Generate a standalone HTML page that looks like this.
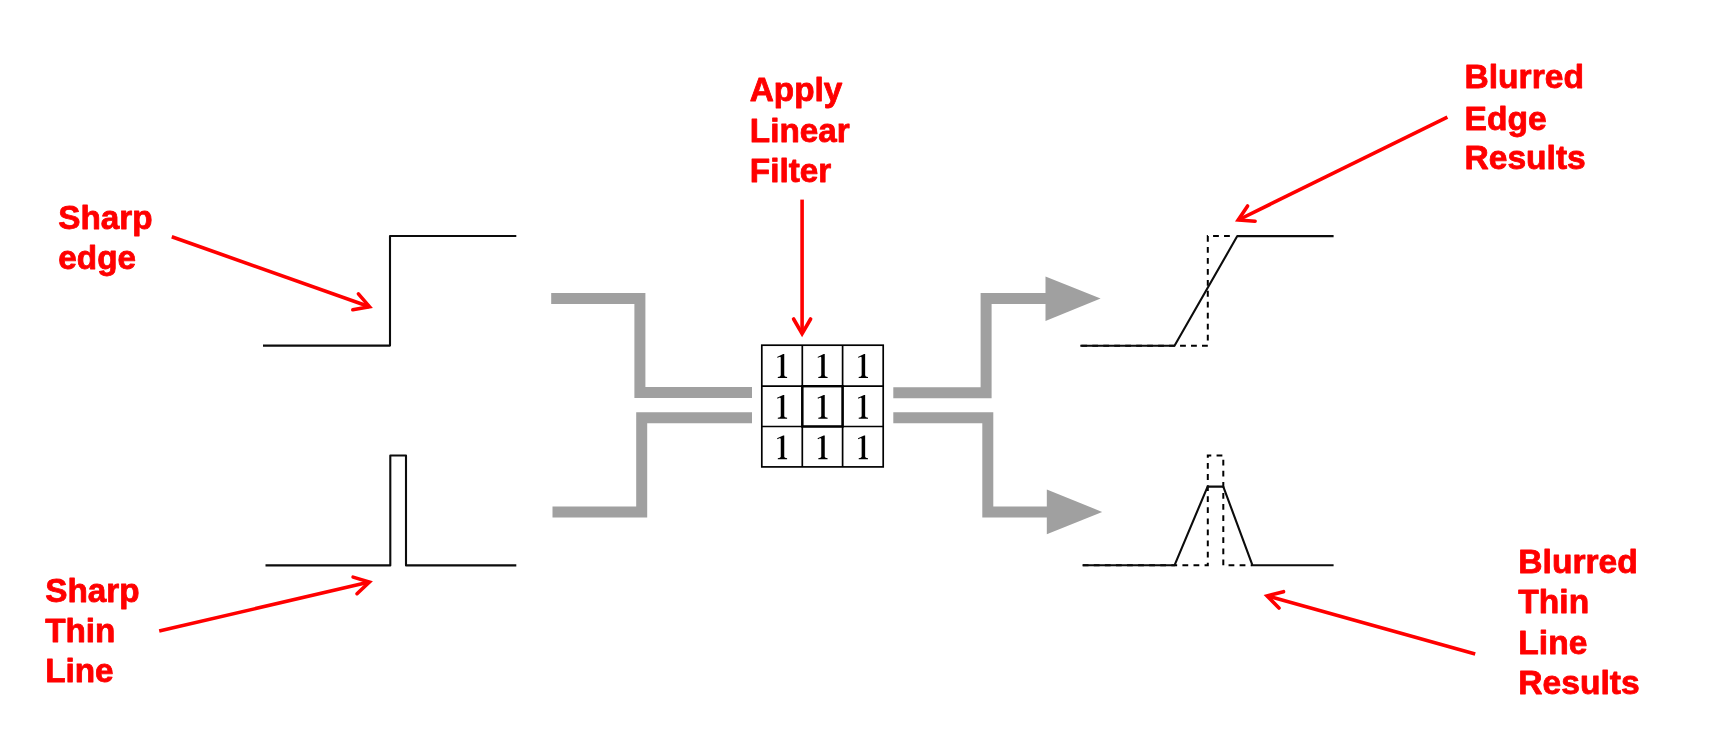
<!DOCTYPE html>
<html>
<head>
<meta charset="utf-8">
<title>Linear filter blur diagram</title>
<style>
  html, body { margin: 0; padding: 0; background: #ffffff; }
  body { width: 1718px; height: 752px; overflow: hidden; }
  svg { display: block; will-change: transform; }
  .lbl { font-family: "Liberation Sans", sans-serif; font-weight: bold; font-size: 33.3px; fill: #ff0000; stroke: #ff0000; stroke-width: 0.8px; stroke-linejoin: round; }
  .sig { fill: none; stroke: #0c0c0c; stroke-width: 2.1; stroke-linejoin: round; stroke-linecap: butt; }
  .dash { fill: none; stroke: #000000; stroke-width: 2; stroke-linejoin: miter; }
  .gry { fill: none; stroke: #a0a0a0; stroke-width: 11; stroke-linejoin: miter; stroke-linecap: butt; }
  .gfill { fill: #a0a0a0; stroke: none; }
  .ra { fill: none; stroke: #ff0000; stroke-width: 3.6; stroke-linecap: round; stroke-linejoin: miter; stroke-miterlimit: 10; }
  .rs { fill: none; stroke: #ff0000; stroke-width: 3.6; stroke-linecap: butt; }
</style>
</head>
<body>
<svg width="1718" height="752" viewBox="0 0 1718 752">
  <rect x="0" y="0" width="1718" height="752" fill="#ffffff"/>

  <!-- labels -->
  <text class="lbl" x="58.3" y="228.6">Sharp</text>
  <text class="lbl" x="58.3" y="268.6">edge</text>

  <text class="lbl" x="45.2" y="602.1">Sharp</text>
  <text class="lbl" x="45.2" y="642.1">Thin</text>
  <text class="lbl" x="45.2" y="682.4">Line</text>

  <text class="lbl" x="749.8" y="101.3">Apply</text>
  <text class="lbl" x="749.8" y="141.8">Linear</text>
  <text class="lbl" x="749.8" y="181.9">Filter</text>

  <text class="lbl" style="font-size:33.6px" x="1464.5" y="88.2">Blurred</text>
  <text class="lbl" style="font-size:33.6px" x="1464.5" y="129.7">Edge</text>
  <text class="lbl" style="font-size:33.6px" x="1464.5" y="169">Results</text>

  <text class="lbl" style="font-size:33.6px" x="1518.3" y="573.1">Blurred</text>
  <text class="lbl" style="font-size:33.6px" x="1518.3" y="613.4">Thin</text>
  <text class="lbl" style="font-size:33.6px" x="1518.3" y="653.7">Line</text>
  <text class="lbl" style="font-size:33.6px" x="1518.3" y="693.9">Results</text>

  <!-- left signals -->
  <path class="sig" d="M263 345.6 H390 V236 H516.3"/>
  <path class="sig" d="M265.5 565.4 H390.3 V455.5 H406 V565.4 H516.3"/>

  <!-- grey connectors (left) -->
  <path class="gry" d="M551.2 298.4 H639.9 V392.6 H752"/>
  <path class="gry" d="M552.5 512 H641.7 V417.8 H752"/>

  <!-- grey connectors (right) -->
  <path class="gry" d="M893.3 392.7 H986.1 V298.4 H1046"/>
  <path class="gry" d="M893.3 417.8 H987.8 V511.9 H1047.5"/>
  <path class="gfill" d="M1045.5 276.5 L1100.6 298.6 L1045.5 320.9 Z"/>
  <path class="gfill" d="M1046.8 489.6 L1102.2 511.9 L1046.8 534.2 Z"/>

  <!-- kernel grid -->
  <g fill="none" stroke="#000000" stroke-width="1.7">
    <rect x="761.8" y="345.2" width="121.4" height="121.7"/>
    <path d="M802.3 345.2 V466.9 M842.6 345.2 V466.9 M761.8 386.2 H883.2 M761.8 426.5 H883.2"/>
  </g>
  <rect x="802.3" y="386.2" width="40.3" height="40.3" fill="none" stroke="#000000" stroke-width="2.4"/>

  <path fill="#000000" transform="translate(782.5 377.9)" d="M1.75 -23.9 L1.75 -2.6 Q1.75 -1.15 4.6 -1.0 L4.6 0 L-4.7 0 L-4.7 -1.0 Q-1.75 -1.15 -1.75 -2.6 L-1.75 -20.2 Q-1.85 -21.5 -3.1 -21.0 L-5.0 -20.15 L-5.45 -20.95 L0.7 -23.9 Z"/>
  <path fill="#000000" transform="translate(823.0 377.9)" d="M1.75 -23.9 L1.75 -2.6 Q1.75 -1.15 4.6 -1.0 L4.6 0 L-4.7 0 L-4.7 -1.0 Q-1.75 -1.15 -1.75 -2.6 L-1.75 -20.2 Q-1.85 -21.5 -3.1 -21.0 L-5.0 -20.15 L-5.45 -20.95 L0.7 -23.9 Z"/>
  <path fill="#000000" transform="translate(863.4 377.9)" d="M1.75 -23.9 L1.75 -2.6 Q1.75 -1.15 4.6 -1.0 L4.6 0 L-4.7 0 L-4.7 -1.0 Q-1.75 -1.15 -1.75 -2.6 L-1.75 -20.2 Q-1.85 -21.5 -3.1 -21.0 L-5.0 -20.15 L-5.45 -20.95 L0.7 -23.9 Z"/>
  <path fill="#000000" transform="translate(782.5 418.8)" d="M1.75 -23.9 L1.75 -2.6 Q1.75 -1.15 4.6 -1.0 L4.6 0 L-4.7 0 L-4.7 -1.0 Q-1.75 -1.15 -1.75 -2.6 L-1.75 -20.2 Q-1.85 -21.5 -3.1 -21.0 L-5.0 -20.15 L-5.45 -20.95 L0.7 -23.9 Z"/>
  <path fill="#000000" transform="translate(823.0 418.8)" d="M1.75 -23.9 L1.75 -2.6 Q1.75 -1.15 4.6 -1.0 L4.6 0 L-4.7 0 L-4.7 -1.0 Q-1.75 -1.15 -1.75 -2.6 L-1.75 -20.2 Q-1.85 -21.5 -3.1 -21.0 L-5.0 -20.15 L-5.45 -20.95 L0.7 -23.9 Z"/>
  <path fill="#000000" transform="translate(863.4 418.8)" d="M1.75 -23.9 L1.75 -2.6 Q1.75 -1.15 4.6 -1.0 L4.6 0 L-4.7 0 L-4.7 -1.0 Q-1.75 -1.15 -1.75 -2.6 L-1.75 -20.2 Q-1.85 -21.5 -3.1 -21.0 L-5.0 -20.15 L-5.45 -20.95 L0.7 -23.9 Z"/>
  <path fill="#000000" transform="translate(782.5 459.3)" d="M1.75 -23.9 L1.75 -2.6 Q1.75 -1.15 4.6 -1.0 L4.6 0 L-4.7 0 L-4.7 -1.0 Q-1.75 -1.15 -1.75 -2.6 L-1.75 -20.2 Q-1.85 -21.5 -3.1 -21.0 L-5.0 -20.15 L-5.45 -20.95 L0.7 -23.9 Z"/>
  <path fill="#000000" transform="translate(823.0 459.3)" d="M1.75 -23.9 L1.75 -2.6 Q1.75 -1.15 4.6 -1.0 L4.6 0 L-4.7 0 L-4.7 -1.0 Q-1.75 -1.15 -1.75 -2.6 L-1.75 -20.2 Q-1.85 -21.5 -3.1 -21.0 L-5.0 -20.15 L-5.45 -20.95 L0.7 -23.9 Z"/>
  <path fill="#000000" transform="translate(863.4 459.3)" d="M1.75 -23.9 L1.75 -2.6 Q1.75 -1.15 4.6 -1.0 L4.6 0 L-4.7 0 L-4.7 -1.0 Q-1.75 -1.15 -1.75 -2.6 L-1.75 -20.2 Q-1.85 -21.5 -3.1 -21.0 L-5.0 -20.15 L-5.45 -20.95 L0.7 -23.9 Z"/>

  <!-- right signals: blurred edge -->
  <path class="dash" d="M1080.3 345.7 H1207.8 V236.1 H1235" stroke-dasharray="5.8 5.17" stroke-dashoffset="9.94"/>
  <path class="sig" d="M1080.3 345.7 H1174.5 L1237.3 236.1 H1333.6"/>

  <!-- right signals: blurred thin line -->
  <path class="dash" d="M1082.7 565.3 H1207.8 V455.4 H1223.3 V565.3 H1252" stroke-dasharray="5.8 5.28"/>
  <path class="sig" d="M1082.7 565.3 H1174.5 L1207.6 486.6 H1223.3 L1252.5 565.3 H1333.6"/>

  <!-- red arrows -->
  <path class="rs" d="M171.8 236.8 L369.5 306.7"/>
  <path class="ra" d="M358.4 293.8 L369.5 306.7 L352.8 309.8"/>
  <path class="rs" d="M159.2 631.1 L369.4 582.0"/>
  <path class="ra" d="M353.1 577.1 L369.4 582.0 L357.0 593.7"/>
  <path class="rs" d="M802.1 199.6 L802.1 333.7"/>
  <path class="ra" d="M810.6 319.0 L802.1 333.7 L793.6 319.0"/>
  <path class="rs" d="M1447.4 117.1 L1238.2 220.0"/>
  <path class="ra" d="M1255.1 221.2 L1238.2 220.0 L1247.6 205.9"/>
  <path class="rs" d="M1475.2 653.9 L1267.1 595.9"/>
  <path class="ra" d="M1279.0 608.0 L1267.1 595.9 L1283.5 591.7"/>
</svg>
</body>
</html>
